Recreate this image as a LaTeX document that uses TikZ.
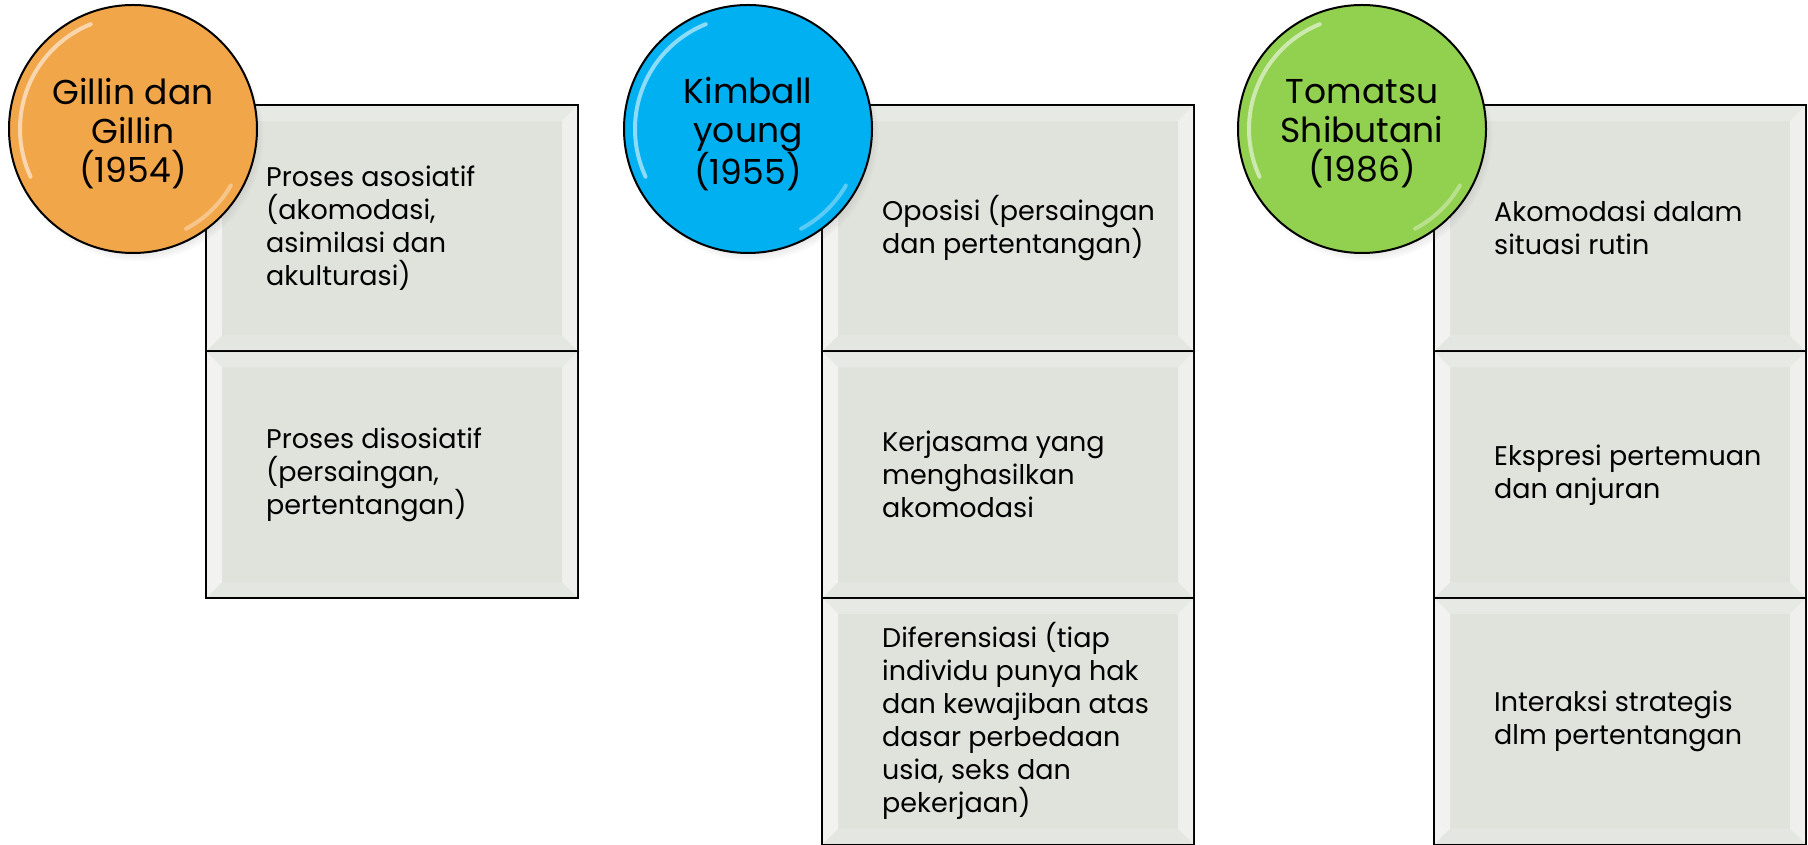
\documentclass[tikz,border=0pt]{standalone}
\usepackage{fontspec}
\setmainfont{Poppins}
\usetikzlibrary{positioning,shadows}

\definecolor{cellgray}{RGB}{224,226,220}
\definecolor{gillinorange}{RGB}{242,166,74}
\definecolor{kimballblue}{RGB}{0,176,240}
\definecolor{tomatsugreen}{RGB}{146,208,80}

\tikzset{
  cell/.style={rectangle,draw=black,line width=2pt,fill=cellgray,minimum width=372pt,minimum height=246.5pt,outer sep=0pt,inner sep=0pt},
  celltext/.style={align=left,inner sep=0pt,font=\fontsize{27}{33}\selectfont},
  bubble/.style={circle,draw=black,line width=2pt,minimum size=248pt,inner sep=0pt,
    circular drop shadow={shadow scale=1.02,shadow xshift=4pt,shadow yshift=-6pt,opacity=.35}},
  bubbletext/.style={align=center,inner sep=0pt,font=\fontsize{34.5}{39}\selectfont},
  bevel/.style={fill=white,fill opacity=#1},
  shine/.style={white,line width=4pt,line cap=round,opacity=.55}
}

% light edges inside a cell
\newcommand{\bevelcell}[1]{%
  \fill[bevel=.6] ([shift={(1,-1)}]#1.north west) -- ([shift={(1,1)}]#1.south west)
    -- ([shift={(16,16)}]#1.south west) -- ([shift={(16,-16)}]#1.north west) -- cycle;
  \fill[bevel=.5] ([shift={(-1,-1)}]#1.north east) -- ([shift={(-1,1)}]#1.south east)
    -- ([shift={(-16,16)}]#1.south east) -- ([shift={(-16,-16)}]#1.north east) -- cycle;
  \fill[bevel=.25] ([shift={(1,-1)}]#1.north west) -- ([shift={(-1,-1)}]#1.north east)
    -- ([shift={(-16,-16)}]#1.north east) -- ([shift={(16,-16)}]#1.north west) -- cycle;
  \fill[bevel=.15] ([shift={(1,1)}]#1.south west) -- ([shift={(-1,1)}]#1.south east)
    -- ([shift={(-16,16)}]#1.south east) -- ([shift={(16,16)}]#1.south west) -- cycle;
}

\begin{document}
\begin{tikzpicture}[x=1pt,y=1pt]
  \useasboundingbox (0,0) rectangle (1808,844);

  % cells
  \node[cell,anchor=north west] (g1) at (206,739) {};
  \node[cell,below=0pt of g1] (g2) {};
  \node[cell,anchor=north west] (k1) at (822,739) {};
  \node[cell,below=0pt of k1] (k2) {};
  \node[cell,below=0pt of k2] (k3) {};
  \node[cell,anchor=north west] (t1) at (1434,739) {};
  \node[cell,below=0pt of t1] (t2) {};
  \node[cell,below=0pt of t2] (t3) {};

  \bevelcell{g1}
  \bevelcell{g2}
  \bevelcell{k1}
  \bevelcell{k2}
  \bevelcell{k3}
  \bevelcell{t1}
  \bevelcell{t2}
  \bevelcell{t3}

  % texts
  \node[celltext,right=60pt of g1.west] (g1text) {Proses asosiatif\\(akomodasi,\\asimilasi dan\\akulturasi)};
  \node[celltext,right=60pt of g2.west] (g2text) {Proses disosiatif\\(persaingan,\\pertentangan)};
  \node[celltext,right=60pt of k1.west] (k1text) {Oposisi (persaingan\\dan pertentangan)};
  \node[celltext,right=60pt of k2.west] (k2text) {Kerjasama yang\\menghasilkan\\akomodasi};
  \node[celltext,right=60pt of k3.west] (k3text) {Diferensiasi (tiap\\individu punya hak\\dan kewajiban atas\\dasar perbedaan\\usia, seks dan\\pekerjaan)};
  \node[celltext,right=60pt of t1.west] (t1text) {Akomodasi dalam\\situasi rutin};
  \node[celltext,right=60pt of t2.west] (t2text) {Ekspresi pertemuan\\dan anjuran};
  \node[celltext,right=60pt of t3.west] (t3text) {Interaksi strategis\\dlm pertentangan};

  % circles
  \node[bubble,fill=gillinorange] (gillin) at (133,715) {};
  \node[bubble,fill=kimballblue] (kimball) at (748,715) {};
  \node[bubble,fill=tomatsugreen] (tomatsu) at (1362,715) {};

  \draw[shine] (gillin.center) ++(112:113) arc[start angle=112,end angle=205,radius=113];
  \draw[shine,opacity=.35] (gillin.center) ++(-30:113) arc[start angle=-30,end angle=-62,radius=113];
  \draw[shine] (kimball.center) ++(112:113) arc[start angle=112,end angle=205,radius=113];
  \draw[shine,opacity=.35] (kimball.center) ++(-30:113) arc[start angle=-30,end angle=-62,radius=113];
  \draw[shine] (tomatsu.center) ++(112:113) arc[start angle=112,end angle=205,radius=113];
  \draw[shine,opacity=.35] (tomatsu.center) ++(-30:113) arc[start angle=-30,end angle=-62,radius=113];

  \node[bubbletext] (gillintext) at ([yshift=-5pt]gillin.center) {Gillin dan\\Gillin\\(1954)};
  \node[bubbletext] (kimballtext) at ([yshift=-5pt]kimball.center) {Kimball\\young\\(1955)};
  \node[bubbletext] (tomatsutext) at ([yshift=-5pt]tomatsu.center) {Tomatsu\\Shibutani\\(1986)};
\end{tikzpicture}
\end{document}
